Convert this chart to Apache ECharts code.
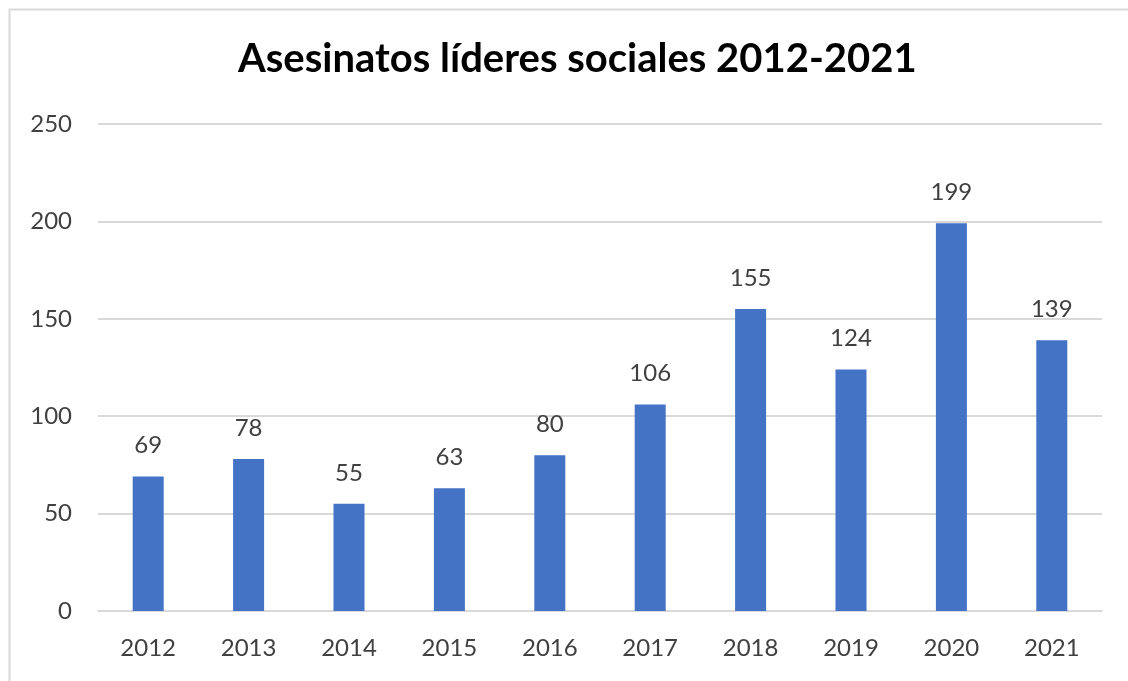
<!DOCTYPE html>
<html>
<head>
<meta charset="utf-8">
<script src="https://cdn.jsdelivr.net/npm/echarts@6/dist/echarts.min.js"></script>
<style>
html,body{margin:0;padding:0;background:#fff;overflow:hidden;}
#chart{width:1128px;height:681px;}
</style>
</head>
<body>
<div id="chart"></div>
<script>
const titleText = 'Asesinatos líderes sociales 2012-2021';
const categories = ['2012','2013','2014','2015','2016','2017','2018','2019','2020','2021'];
const values = [69, 78, 55, 63, 80, 106, 155, 124, 199, 139];
const yTicks = { min: 0, max: 250, interval: 50 };

const chart = echarts.init(document.getElementById('chart'));
chart.setOption({
  animation: false,
  backgroundColor: '#fff',
  graphic: [{
    type: 'rect', left: 7, top: 7,
    shape: { width: 1200, height: 800 },
    style: { fill: 'none', stroke: '#d9d9d9', lineWidth: 2 },
    silent: true
  }],
  title: {
    text: titleText,
    left: 233,
    top: 34,
    textStyle: { fontFamily: 'Lato', fontWeight: 'bold', fontSize: 40, color: '#000' }
  },
  grid: { left: 98, right: 26, top: 124, bottom: 70, containLabel: false },
  xAxis: {
    type: 'category',
    data: categories,
    axisLine: { lineStyle: { color: '#d9d9d9', width: 2 } },
    axisTick: { show: false },
    axisLabel: { fontFamily: 'Lato', fontSize: 24, color: '#404040', margin: 25 }
  },
  yAxis: {
    type: 'value',
    min: yTicks.min, max: yTicks.max, interval: yTicks.interval,
    axisLine: { show: false },
    axisTick: { show: false },
    splitLine: { lineStyle: { color: '#d9d9d9', width: 2 } },
    axisLabel: { fontFamily: 'Lato', fontSize: 24, color: '#404040', margin: 26 }
  },
  series: [{
    type: 'bar',
    data: values,
    barWidth: 31,
    itemStyle: { color: '#4472C4' },
    label: {
      show: true, position: 'top', distance: 19,
      fontFamily: 'Lato', fontSize: 24, color: '#404040'
    }
  }]
});
</script>
</body>
</html>
